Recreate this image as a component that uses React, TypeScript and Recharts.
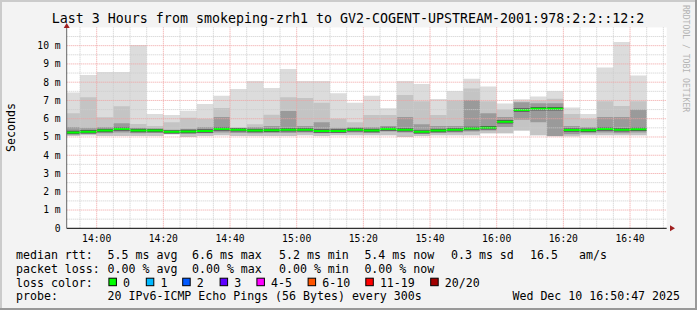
import React from 'react';
import {
    ComposedChart,
    Area,
    XAxis,
    YAxis,
    CartesianGrid,
    ReferenceLine,
} from 'recharts';

// 5 minute rounds, labelled by start time (first one is cut by the window)
const startTimes = [
    '13:51', '13:55', '14:00', '14:05', '14:10', '14:15', '14:20', '14:25', '14:30', '14:35',
    '14:40', '14:45', '14:50', '14:55', '15:00', '15:05', '15:10', '15:15', '15:20', '15:25',
    '15:30', '15:35', '15:40', '15:45', '15:50', '15:55', '16:00', '16:05', '16:10', '16:15',
    '16:20', '16:25', '16:30', '16:35', '16:40',
];
const endTime = '16:45';

// ping distribution per round, in ms
const pingMin = [
    5.05, 5.1, 5.05, 5.05, 5.05, 5.05, 5.15, 5.0, 5.05, 5.1, 5.05, 5.05, 5.05, 5.05, 5.1,
    5.05, 5.1, 5.1, 5.1, 5.1, 5.0, 5.05, 5.1, 5.1, 5.1, 5.2, 5.2, 5.35, 5.1, 5.04,
    5.04, 5.1, 5.1, 5.1, 5.1,
];
const pingLow = [
    5.15, 5.18, 5.2, 5.25, 5.2, 5.22, 5.18, 5.18, 5.2, 5.25, 5.22, 5.2, 5.22, 5.22, 5.25,
    5.2, 5.22, 5.25, 5.22, 5.3, 5.25, 5.18, 5.22, 5.25, 5.3, 5.35, 5.55, 5.95, 5.8, 5.05,
    5.15, 5.2, 5.25, 5.2, 5.25,
];
const median = [
    5.24, 5.29, 5.35, 5.44, 5.35, 5.35, 5.28, 5.3, 5.33, 5.44, 5.39, 5.35, 5.37, 5.39, 5.39,
    5.33, 5.33, 5.39, 5.35, 5.44, 5.4, 5.28, 5.35, 5.4, 5.46, 5.5, 5.84, 6.48, 6.55, 6.55,
    5.38, 5.37, 5.44, 5.39, 5.42,
];
const pingHigh = [
    5.55, 5.5, 5.55, 5.75, 5.5, 5.45, 5.4, 5.45, 5.55, 6.1, 5.45, 5.55, 5.6, 6.42, 5.6,
    5.8, 5.5, 5.55, 5.55, 5.6, 6.1, 5.7, 5.6, 5.6, 7.03, 6.3, 6.1, 6.9, 6.85, 6.85,
    5.6, 5.55, 6.1, 6.1, 6.5,
];
const ping90 = [
    6.3, 7.17, 6.08, 6.68, 5.71, 5.6, 5.8, 6.05, 6.0, 6.59, 5.55, 5.7, 6.22, 7.17, 7.13,
    6.88, 6.0, 5.8, 6.2, 6.2, 7.3, 6.95, 6.2, 7.0, 7.66, 6.95, 6.5, 6.95, 7.0, 7.1,
    6.26, 6.0, 6.95, 6.7, 6.95,
];
const pingMax = [
    7.43, 8.4, 8.56, 8.56, 10.04, 6.26, 6.2, 6.44, 6.81, 7.26, 7.63, 8.07, 7.68, 8.72, 8.07,
    8.07, 7.39, 6.88, 7.26, 6.57, 8.07, 7.9, 7.08, 7.52, 8.19, 7.76, 6.84, 7.06, 7.21, 7.52,
    6.62, 6.26, 8.8, 10.2, 8.36,
];

const timeTicks = ['14:00', '14:20', '14:40', '15:00', '15:20', '15:40', '16:00', '16:20', '16:40'];
const minorTimes = [
    '13:55', '14:05', '14:10', '14:15', '14:25', '14:30', '14:35', '14:45', '14:50', '14:55',
    '15:05', '15:10', '15:15', '15:25', '15:30', '15:35', '15:45', '15:50', '15:55', '16:05',
    '16:10', '16:15', '16:25', '16:30', '16:35', '16:45', '16:50',
];
const msTicks = [0, 1, 2, 3, 4, 5, 6, 7, 8, 9, 10];
const msMinor = [0.5, 1.5, 2.5, 3.5, 4.5, 5.5, 6.5, 7.5, 8.5, 9.5, 10.5];

const lossColors = [
    { label: '0', color: '#00ff00' },
    { label: '1', color: '#00b8ff' },
    { label: '2', color: '#0059ff' },
    { label: '3', color: '#5e00ff' },
    { label: '4-5', color: '#ff00ff' },
    { label: '6-10', color: '#ff5500' },
    { label: '11-19', color: '#ff0000' },
    { label: '20/20', color: '#a10000' },
];

const toMin = (s: string) => {
    const [h, m] = s.split(':').map(Number);
    return h * 60 + m;
};
const fmtMin = (v: number) => {
    const h = Math.floor(v / 60);
    const m = v % 60;
    return `${h}:${m < 10 ? '0' : ''}${m}`;
};

const rows = startTimes.map((s, i) => ({
    t: toMin(s),
    min: pingMin[i],
    low: pingLow[i],
    median: median[i],
    high: pingHigh[i],
    p90: ping90[i],
    max: pingMax[i],
}));
// closing point so the last step gets its width
rows.push({ ...rows[rows.length - 1], t: toMin(endTime) });

const mono = '"DejaVu Sans Mono", monospace';
const minorStroke = '#cccccc';
const majorStroke = '#f0a0a0';
// half thickness of the median bands, in ms (~2px green, ~3.5px dark)
const greenHalf = 0.055;
const darkHalf = 0.095;

export default function App() {
    const lossX = [108.4, 145.8, 182.2, 219.6, 256.4, 307.6, 365.3, 430.2];
    return (
        <div style={{ position: 'absolute', left: 0, top: 0, width: 697, height: 310, background: '#f3f3f3' }}>
            <ComposedChart
                width={697}
                height={310}
                data={rows}
                margin={{ top: 27.4, right: 30.3, bottom: 51.7, left: 16.7 }}
            >
                <CartesianGrid horizontal={false} vertical={false} fill="#ffffff" stroke="none" />
                <XAxis
                    dataKey="t"
                    type="number"
                    domain={[831, 1011]}
                    allowDataOverflow
                    ticks={timeTicks.map(toMin)}
                    tickFormatter={fmtMin}
                    height={30}
                    tickSize={0}
                    tickMargin={7}
                    tickLine={false}
                    axisLine={{ stroke: '#000' }}
                    tick={{ fill: '#000', fontSize: 9.7, fontFamily: mono }}
                />
                <YAxis
                    type="number"
                    domain={[0, 11]}
                    allowDataOverflow
                    ticks={msTicks}
                    tickFormatter={(v: number) => (v === 0 ? '0' : `${v} m`)}
                    width={50}
                    tickSize={0}
                    tickMargin={6}
                    tickLine={false}
                    axisLine={{ stroke: '#666' }}
                    tick={{ fill: '#000', fontSize: 9.7, fontFamily: mono }}
                />
                <Area
                    type="stepAfter"
                    dataKey={(d: any) => [d.min, d.max]}
                    fill="#dcdcdc"
                    fillOpacity={1}
                    stroke="none"
                    dot={false}
                    activeDot={false}
                    isAnimationActive={false}
                />
                <Area
                    type="stepAfter"
                    dataKey={(d: any) => [d.min, d.p90]}
                    fill="#c4c4c4"
                    fillOpacity={1}
                    stroke="none"
                    dot={false}
                    activeDot={false}
                    isAnimationActive={false}
                />
                <Area
                    type="stepAfter"
                    dataKey={(d: any) => [d.low, d.high]}
                    fill="#9a9a9a"
                    fillOpacity={1}
                    stroke="none"
                    dot={false}
                    activeDot={false}
                    isAnimationActive={false}
                />
                {msMinor.map((v) => (
                    <ReferenceLine key={`ym${v}`} y={v} stroke={minorStroke} strokeDasharray="1 1" />
                ))}
                {minorTimes.map((s) => (
                    <ReferenceLine key={`xm${s}`} x={toMin(s)} stroke={minorStroke} strokeDasharray="1 1" />
                ))}
                {msTicks.slice(1).map((v) => (
                    <ReferenceLine key={`yM${v}`} y={v} stroke={majorStroke} strokeDasharray="1 1" />
                ))}
                {timeTicks.map((s) => (
                    <ReferenceLine key={`xM${s}`} x={toMin(s)} stroke={majorStroke} strokeDasharray="1 1" />
                ))}
                <Area
                    type="stepAfter"
                    dataKey={(d: any) => [d.median - darkHalf, d.median + darkHalf]}
                    fill="#555555"
                    fillOpacity={1}
                    stroke="none"
                    dot={false}
                    activeDot={false}
                    isAnimationActive={false}
                />
                <Area
                    type="stepAfter"
                    dataKey={(d: any) => [d.median - greenHalf, d.median + greenHalf]}
                    fill="#00ff00"
                    fillOpacity={1}
                    stroke="none"
                    dot={false}
                    activeDot={false}
                    isAnimationActive={false}
                />
            </ComposedChart>

            <svg
                width={697}
                height={310}
                style={{ position: 'absolute', left: 0, top: 0, pointerEvents: 'none' }}
                fontFamily={mono}
            >
                <rect x={0} y={0} width={697} height={2} fill="#cbcbcb" />
                <rect x={0} y={0} width={2} height={310} fill="#cbcbcb" />
                <rect x={0} y={308} width={697} height={2} fill="#999999" />
                <rect x={695} y={0} width={2} height={310} fill="#999999" />

                <polygon points="63.7,28 69.7,28 66.7,23" fill="#a02020" />
                <polygon points="670,225.3 670,231.3 675,228.3" fill="#a02020" />

                <text x={348} y={23.3} textAnchor="middle" fontSize={13.3} fill="#000">
                    Last 3 Hours from smokeping-zrh1 to GV2-COGENT-UPSTREAM-2001:978:2:2::12:2
                </text>
                <text x={14.5} y={127.5} textAnchor="middle" fontSize={11.6} transform="rotate(-90 14.5 127.5)">
                    Seconds
                </text>
                <text x={683} y={5} fontSize={8.1} fill="#b4b4b4" transform="rotate(90 683 5)">
                    RRDTOOL / TOBI OETIKER
                </text>

                <g fontSize={11.6} fill="#000" style={{ whiteSpace: 'pre' }}>
                    <text x={16} y={259}>median rtt:</text>
                    <text x={107.6} y={259}>5.5 ms avg</text>
                    <text x={192} y={259}>6.6 ms max</text>
                    <text x={279} y={259}>5.2 ms min</text>
                    <text x={364.4} y={259}>5.4 ms now</text>
                    <text x={451} y={259}>0.3 ms sd</text>
                    <text x={530} y={259}>16.5</text>
                    <text x={579} y={259}>am/s</text>

                    <text x={16} y={272.5}>packet loss:</text>
                    <text x={107.6} y={272.5}>0.00 % avg</text>
                    <text x={192} y={272.5}>0.00 % max</text>
                    <text x={279} y={272.5}>0.00 % min</text>
                    <text x={364.4} y={272.5}>0.00 % now</text>

                    <text x={16} y={286.5}>loss color:</text>
                    {lossColors.map((c, i) => (
                        <g key={c.label}>
                            <rect x={lossX[i] + 0.5} y={278.2} width={7.5} height={7.5} fill={c.color} stroke="#000" strokeWidth={1} />
                            <text x={lossX[i] + 14.6} y={286.5}>{c.label}</text>
                        </g>
                    ))}

                    <text x={16} y={300}>probe:</text>
                    <text x={107.6} y={300}>20 IPv6-ICMP Echo Pings (56 Bytes) every 300s</text>
                    <text x={680} y={300} textAnchor="end">Wed Dec 10 16:50:47 2025</text>
                </g>
            </svg>
        </div>
    );
}
